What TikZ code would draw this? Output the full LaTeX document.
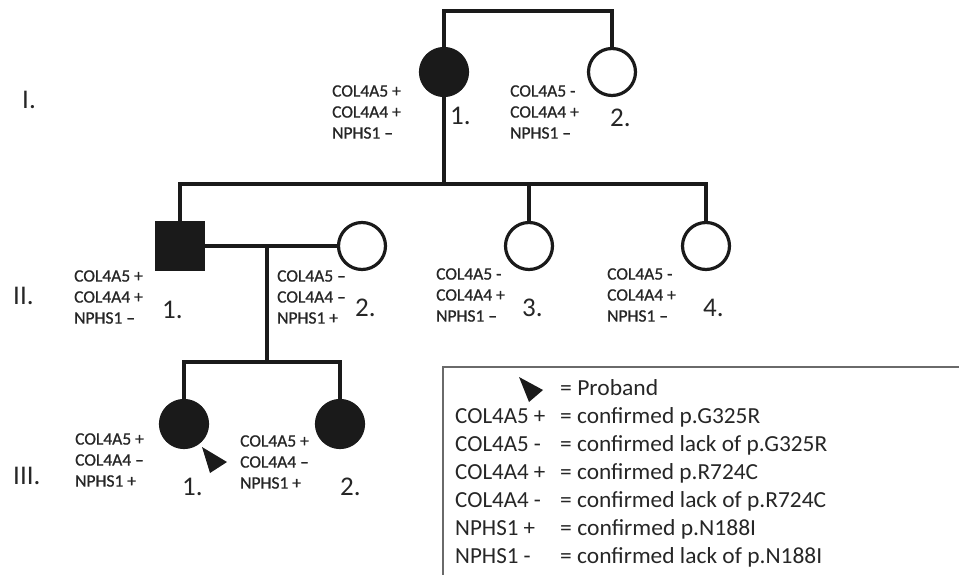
\documentclass[tikz,border=0pt]{standalone}
\usepackage{fontspec}
\usepackage{graphicx}
\setmainfont{Carlito}
\newfontfamily\genefont[FakeBold=0.8]{Carlito}
\definecolor{ink}{HTML}{1A1A1A}
\definecolor{txt}{HTML}{262626}
\definecolor{boxgray}{HTML}{6A6A6A}
\newcommand{\fitw}[2]{\resizebox{#1pt}{\height}{#2}}
\begin{document}
\begin{tikzpicture}[x=1pt,y=-1pt,
  line/.style={line width=4pt, draw=ink},
  fem/.style={circle, minimum size=47pt, inner sep=0pt, line width=3.2pt, draw=ink, fill=white},
  femaff/.style={fem, fill=ink},
  maleaff/.style={rectangle, minimum size=47pt, inner sep=0pt, line width=3.2pt, draw=ink, fill=ink},
  gene/.style={font=\genefont\fontsize{17.5}{21}\selectfont, align=left, anchor=west, inner sep=0pt, text=txt},
  num/.style={font=\fontsize{27}{30}\selectfont, anchor=west, inner sep=0pt, text=txt},
  gen/.style={font=\fontsize{27}{30}\selectfont, anchor=west, inner sep=0pt, text=txt},
  leg/.style={font=\fontsize{23}{28}\selectfont, anchor=base west, inner sep=0pt, text=txt}]
\useasboundingbox (0,0) rectangle (959,575);

% individuals
\node[femaff] (i1) at (444,72) {};
\node[fem] (i2) at (612,72) {};
\node[maleaff] (ii1) at (180,246) {};
\node[fem] (ii2) at (362,246) {};
\node[fem] (ii3) at (529,246) {};
\node[fem] (ii4) at (706,246) {};
\node[femaff] (iii1) at (184,424) {};
\node[femaff] (iii2) at (340,424) {};

% connector coordinates
\coordinate (top) at (528,11);
\coordinate (sib2) at (444,184);
\coordinate (mate) at (267,246);
\coordinate (sib3) at (267,362);

% connectors
\draw[line] (i1.north) |- (top) -| (i2.north);
\draw[line] (i1.south) -- (sib2);
\draw[line] (ii1.north) |- (sib2);
\draw[line] (sib2) -| (ii3.north);
\draw[line] (sib2) -| (ii4.north);
\draw[line] (ii1.east) -- (ii2.west);
\draw[line] (mate) -- (sib3);
\draw[line] (iii1.north) |- (sib3);
\draw[line] (sib3) -| (iii2.north);

% generation numerals
\node[gen] (gI) at (22,100) {I.};
\node[gen] (gII) at (13,296) {II.};
\node[gen] (gIII) at (13,476) {III.};

% genotype labels
\node[gene] (l_i1) at (332,112) {COL4A5 +\\COL4A4 +\\NPHS1 –};
\node[gene] (l_i2) at (510,112) {COL4A5 -\\COL4A4 +\\NPHS1 –};
\node[gene] (l_ii1) at (74,297) {COL4A5 +\\COL4A4 +\\NPHS1 –};
\node[gene] (l_ii2) at (277,297) {COL4A5 –\\COL4A4 –\\NPHS1 +};
\node[gene] (l_ii3) at (436,295) {COL4A5 -\\COL4A4 +\\NPHS1 –};
\node[gene] (l_ii4) at (607,295) {COL4A5 -\\COL4A4 +\\NPHS1 –};
\node[gene] (l_iii1) at (75,460) {COL4A5 +\\COL4A4 –\\NPHS1 +};
\node[gene] (l_iii2) at (240,462) {COL4A5 +\\COL4A4 –\\NPHS1 +};

% individual numbers
\node[num] (n_i1) at (450,116) {1.};
\node[num] (n_i2) at (610,118) {2.};
\node[num] (n_ii1) at (162,310) {1.};
\node[num] (n_ii2) at (355,308) {2.};
\node[num] (n_ii3) at (522,308) {3.};
\node[num] (n_ii4) at (703,308) {4.};
\node[num] (n_iii1) at (182,487) {1.};
\node[num] (n_iii2) at (340,487) {2.};

% proband arrow
\fill[ink] (202,447) -- (227,462) -- (210,473) -- cycle;

% legend
\coordinate (lb) at (443,575);
\coordinate (rt) at (959,367);
\draw[boxgray, line width=1.6pt] (lb) |- (rt);
\fill[ink] (519,377) -- (543,390) -- (529,402) -- cycle;
\node[leg] (lg0) at (560,395) {\fitw{98}{= Proband}};
\node[leg] (lg1a) at (455,423) {COL4A5 +};
\node[leg] (lg1b) at (560,423) {\fitw{200}{= confirmed p.G325R}};
\node[leg] (lg2a) at (455,451) {COL4A5 -};
\node[leg] (lg2b) at (560,451) {\fitw{267}{= confirmed lack of p.G325R}};
\node[leg] (lg3a) at (455,479) {COL4A4 +};
\node[leg] (lg3b) at (560,479) {\fitw{198}{= confirmed p.R724C}};
\node[leg] (lg4a) at (455,507) {COL4A4 -};
\node[leg] (lg4b) at (560,507) {\fitw{266}{= confirmed lack of p.R724C}};
\node[leg] (lg5a) at (455,535) {NPHS1 +};
\node[leg] (lg5b) at (560,535) {\fitw{196}{= confirmed p.N188I}};
\node[leg] (lg6a) at (455,563) {NPHS1 -};
\node[leg] (lg6b) at (560,563) {\fitw{262}{= confirmed lack of p.N188I}};
\end{tikzpicture}
\end{document}
